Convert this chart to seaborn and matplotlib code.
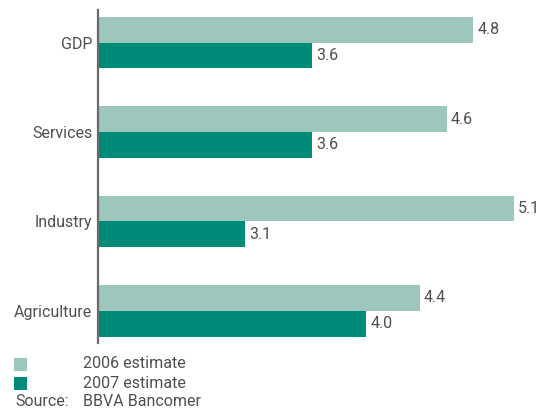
import matplotlib
matplotlib.use("Agg")
import matplotlib.pyplot as plt
import seaborn as sns
import pandas as pd
from matplotlib.patches import Rectangle

categories = ["GDP", "Services", "Industry", "Agriculture"]
series_names = ["2006 estimate", "2007 estimate"]
values_2006 = [4.8, 4.6, 5.1, 4.4]
values_2007 = [3.6, 3.6, 3.1, 4.0]
source_label = "Source:"
source_text = "BBVA Bancomer"

colors = ["#9dc6bc", "#008a78"]
text_color = "#4f4f4f"
fs = 11.5

sns.set_theme(style="white")
plt.rcParams['font.family'] = ['Roboto', 'DejaVu Sans']

df = pd.DataFrame({
    "category": categories * 2,
    "series": [series_names[0]] * len(categories) + [series_names[1]] * len(categories),
    "value": values_2006 + values_2007,
})

fig = plt.figure(figsize=(5.39, 4.08), dpi=100)
ax = fig.add_axes([98 / 539, 1 - 343 / 408, 1 - 98 / 539, (343 - 10) / 408])

sns.barplot(data=df, y="category", x="value", hue="series", orient="h",
            palette=colors, width=0.575, ax=ax, legend=False,
            saturation=1, edgecolor="none", linewidth=0)

ax.set_xlim(2.0, 5.29)
ax.set_ylim(3.36, -0.366)
ax.set_xlabel("")
ax.set_ylabel("")
ax.set_xticks([])
for s in ["top", "right", "bottom"]:
    ax.spines[s].set_visible(False)
ax.spines["left"].set_color("#6a6a6a")
ax.spines["left"].set_linewidth(1.6)
ax.tick_params(axis="y", length=0, pad=4, labelsize=fs, labelcolor=text_color)

for cont in ax.containers:
    ax.bar_label(cont, fmt="%.1f", padding=3, fontsize=fs, color=text_color)

# legend-like block
rows_y = [364, 383]
for c, name, yy in zip(colors, series_names, rows_y):
    fig.patches.append(Rectangle((14 / 539, 1 - (yy + 6.5) / 408), 13 / 539, 13 / 408,
                                 transform=fig.transFigure, facecolor=c, edgecolor="none"))
    fig.text(83 / 539, 1 - yy / 408, name, ha="left", va="center",
             fontsize=fs, color=text_color)
fig.text(15 / 539, 1 - 401 / 408, source_label, ha="left", va="center",
         fontsize=fs, color=text_color)
fig.text(83 / 539, 1 - 401 / 408, source_text, ha="left", va="center",
         fontsize=fs, color=text_color)

fig.savefig("out.png", dpi=100)
